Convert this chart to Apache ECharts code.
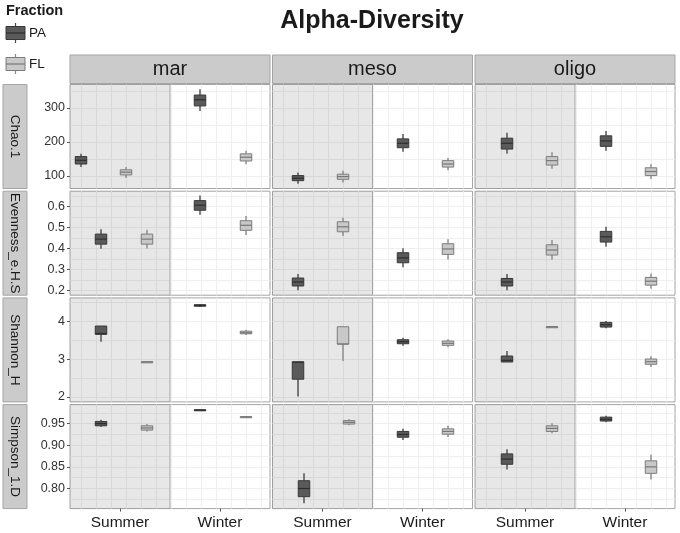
<!DOCTYPE html>
<html>
<head>
<meta charset="utf-8">
<title>Alpha-Diversity</title>
<script src="https://cdn.jsdelivr.net/npm/echarts@6.0.0/dist/echarts.min.js"></script>
<style>
  html, body { margin: 0; padding: 0; background: #fff; }
  #main { width: 680px; height: 533px; }
</style>
</head>
<body>
<div id="main"></div>
<script>
// facets: rows = metrics, columns = sites
var sites = ['mar', 'meso', 'oligo'];
var metrics = ['Chao.1', 'Evenness_e.H.S', 'Shannon_H', 'Simpson_1.D'];
var seasons = ['Summer', 'Winter'];
var fractions = ['PA', 'FL'];

// box stats [low, q1, median, q3, high]
// order in each site: Summer PA, Summer FL, Winter PA, Winter FL
var chao = [
  [[126, 135, 146, 157, 165], [94, 103, 111, 118, 126], [291, 306, 324, 338, 355], [134, 144, 155, 165, 174]],
  [[77, 86, 93, 101, 110], [81, 90, 98, 105, 115], [171, 183, 196, 209, 223], [117, 126, 135, 145, 153]],
  [[165, 179, 196, 211, 227], [121, 132, 145, 157, 170], [174, 187, 203, 218, 232], [91, 101, 113, 124, 134]]
];
var evenness = [
  [[0.399, 0.421, 0.445, 0.469, 0.492], [0.400, 0.421, 0.445, 0.469, 0.490], [0.562, 0.583, 0.607, 0.629, 0.653], [0.465, 0.487, 0.511, 0.533, 0.555]],
  [[0.201, 0.221, 0.240, 0.259, 0.278], [0.460, 0.480, 0.504, 0.528, 0.547], [0.310, 0.332, 0.355, 0.380, 0.401], [0.348, 0.372, 0.398, 0.423, 0.444]],
  [[0.201, 0.221, 0.240, 0.257, 0.278], [0.346, 0.369, 0.393, 0.418, 0.441], [0.409, 0.431, 0.456, 0.482, 0.504], [0.208, 0.225, 0.244, 0.262, 0.281]]
];
var shannon = [
  [[3.46, 3.656, 3.68, 3.876, 3.876], [2.93, 2.93, 2.93, 2.93, 2.93], [4.38, 4.40, 4.42, 4.44, 4.46], [3.64, 3.67, 3.70, 3.74, 3.78]],
  [[2.01, 2.47, 2.92, 2.93, 2.93], [2.95, 3.40, 3.40, 3.857, 3.857], [3.355, 3.408, 3.46, 3.514, 3.567], [3.313, 3.366, 3.42, 3.48, 3.524]],
  [[2.925, 2.925, 2.97, 3.083, 3.215], [3.857, 3.857, 3.857, 3.857, 3.857], [3.815, 3.849, 3.91, 3.973, 4.008], [2.793, 2.864, 2.933, 3.004, 3.075]]
];
var simpson = [
  [[0.942, 0.945, 0.950, 0.955, 0.959], [0.932, 0.935, 0.940, 0.945, 0.949], [0.981, 0.981, 0.9815, 0.982, 0.982], [0.964, 0.965, 0.9655, 0.966, 0.967]],
  [[0.766, 0.781, 0.800, 0.818, 0.835], [0.946, 0.949, 0.953, 0.957, 0.960], [0.912, 0.9185, 0.925, 0.932, 0.938], [0.919, 0.9255, 0.932, 0.938, 0.945]],
  [[0.844, 0.856, 0.868, 0.880, 0.891], [0.928, 0.932, 0.939, 0.945, 0.951], [0.953, 0.956, 0.960, 0.965, 0.968], [0.821, 0.835, 0.850, 0.864, 0.878]]
];

// where each box sits on the panel's x scale (Summer = 0.5, Winter = 1.5)
var chaoX = [[0.11, 0.56, 1.30, 1.76], [0.255, 0.705, 1.305, 1.755], [0.32, 0.77, 1.31, 1.76]];
var evennessX = [[0.31, 0.77, 1.30, 1.76], [0.255, 0.705, 1.305, 1.755], [0.32, 0.77, 1.31, 1.76]];
var shannonX = [[0.31, 0.77, 1.30, 1.76], [0.255, 0.705, 1.305, 1.755], [0.32, 0.77, 1.31, 1.76]];
var simpsonX = [[0.31, 0.77, 1.30, 1.76], [0.315, 0.765, 1.305, 1.755], [0.32, 0.77, 1.31, 1.76]];

// tick labels of each row
var chaoTicks = [100, 200, 300];
var evennessTicks = [0.2, 0.3, 0.4, 0.5, 0.6];
var shannonTicks = [2, 3, 4];
var simpsonTicks = [0.80, 0.85, 0.90, 0.95];
var seasonTicks = [0.5, 1.5];

var rowData = [chao, evenness, shannon, simpson];
var rowX = [chaoX, evennessX, shannonX, simpsonX];
var rowTicks = [chaoTicks, evennessTicks, shannonTicks, simpsonTicks];
var rowRange = [[63, 369], [0.177, 0.674], [1.87, 4.62], [0.7535, 0.994]];
var rowFmt = [
  function (v) { return String(v); },
  function (v) { return v.toFixed(1); },
  function (v) { return String(v); },
  function (v) { return v.toFixed(2); }
];

var FONT = '"Liberation Sans", Arial, Helvetica, sans-serif';
var PL = 70, PT = 84.5, PW = 200, PH = 104, DX = 202.5, DY = 106.7;

var boxStyle = {
  PA: { fill: '#5a5a5a', stroke: '#383838', whisker: '#4a4a4a', median: '#2e2e2e' },
  FL: { fill: '#c8c8c8', stroke: '#7c7c7c', whisker: '#888888', median: '#777777' }
};

// light grid lines: vertical every 0.15 from 0.11, horizontal at ticks and half steps
var xGrid = [];
for (var k = 0; k <= 12; k++) xGrid.push(+(0.11 + 0.15 * k).toFixed(2));
function halfSteps(t) {
  var step = t[1] - t[0], out = [];
  for (var v = t[0] - step; v <= t[t.length - 1] + step * 1.01; v += step / 2) out.push(+v.toFixed(4));
  return out;
}

function renderBox(params, api) {
  var x = api.value(0);
  var lo = api.coord([x, api.value(1)]);
  var q1 = api.coord([x, api.value(2)]);
  var md = api.coord([x, api.value(3)]);
  var q3 = api.coord([x, api.value(4)]);
  var hi = api.coord([x, api.value(5)]);
  var st = boxStyle[fractions[api.value(6)]];
  var w = api.size([0.115, 0])[0];
  var h = Math.max(q1[1] - q3[1], 1);
  return {
    type: 'group',
    children: [
      { type: 'line', shape: { x1: lo[0], y1: lo[1], x2: q1[0], y2: q1[1] }, style: { stroke: st.whisker, lineWidth: 1.4 } },
      { type: 'line', shape: { x1: q3[0], y1: q3[1], x2: hi[0], y2: hi[1] }, style: { stroke: st.whisker, lineWidth: 1.4 } },
      { type: 'rect', shape: { x: q3[0] - w / 2, y: q3[1], width: w, height: h }, style: { fill: st.fill, stroke: st.stroke, lineWidth: 1 } },
      { type: 'line', shape: { x1: md[0] - w / 2, y1: md[1], x2: md[0] + w / 2, y2: md[1] }, style: { stroke: st.median, lineWidth: 1.2 } }
    ]
  };
}

// grey Summer half and the line between seasons
function renderShade(params, api) {
  var cs = params.coordSys;
  var x0 = api.coord([api.value(0), api.value(2)])[0];
  var x1 = api.coord([api.value(1), api.value(2)])[0];
  return {
    type: 'group',
    children: [
      { type: 'rect', shape: { x: x0, y: cs.y, width: x1 - x0, height: cs.height }, style: { fill: 'rgba(0,0,0,0.095)' } },
      { type: 'line', shape: { x1: x1, y1: cs.y, x2: x1, y2: cs.y + cs.height }, style: { stroke: '#a5a5a5', lineWidth: 1 } }
    ]
  };
}

var grids = [], xAxes = [], yAxes = [], series = [], graphics = [];

metrics.forEach(function (metric, r) {
  sites.forEach(function (site, c) {
    var g = r * 3 + c;
    var range = rowRange[r];
    grids.push({
      left: PL + c * DX, top: PT + r * DY, width: PW, height: PH,
      show: true, backgroundColor: '#fff', borderColor: '#a5a5a5', borderWidth: 1
    });
    // axis only for grid lines
    xAxes.push({
      gridIndex: g, type: 'value', min: 0, max: 2, position: 'bottom',
      axisLine: { show: false }, axisLabel: { show: false },
      axisTick: { show: false, customValues: xGrid },
      splitLine: { show: true, lineStyle: { color: '#efefef', width: 1 } }
    });
    // axis with season ticks and labels
    xAxes.push({
      gridIndex: g, type: 'value', min: 0, max: 2, position: 'bottom',
      axisLine: { show: false }, splitLine: { show: false },
      axisTick: { show: r === 3, customValues: seasonTicks, length: 3, lineStyle: { color: '#555' } },
      axisLabel: {
        show: r === 3, customValues: seasonTicks, margin: 6,
        fontSize: 15.5, color: '#1a1a1a', fontFamily: FONT,
        formatter: function (v) { return seasons[Math.round(v - 0.5)]; }
      }
    });
    yAxes.push({
      gridIndex: g, type: 'value', min: range[0], max: range[1], position: 'left',
      axisLine: { show: false }, axisLabel: { show: false },
      axisTick: { show: false, customValues: halfSteps(rowTicks[r]) },
      splitLine: { show: true, lineStyle: { color: '#efefef', width: 1 } }
    });
    yAxes.push({
      gridIndex: g, type: 'value', min: range[0], max: range[1], position: 'left',
      axisLine: { show: false }, splitLine: { show: false },
      axisTick: { show: c === 0, customValues: rowTicks[r], length: 3, lineStyle: { color: '#555' } },
      axisLabel: {
        show: c === 0, customValues: rowTicks[r], margin: 5,
        fontSize: 12.5, color: '#333', fontFamily: FONT, formatter: rowFmt[r]
      }
    });

    series.push({
      type: 'custom', name: 'shade', xAxisIndex: 2 * g + 1, yAxisIndex: 2 * g + 1,
      z: 1, silent: true, renderItem: renderShade,
      data: [[0, 1, range[0]]]
    });

    var boxes = rowData[r][c].map(function (b, i) {
      return [rowX[r][c][i]].concat(b).concat([i % 2]);
    });
    series.push({
      type: 'custom', name: metric + ' ' + site, xAxisIndex: 2 * g + 1, yAxisIndex: 2 * g + 1,
      z: 3, renderItem: renderBox,
      encode: { x: 0, y: [1, 2, 3, 4, 5] },
      data: boxes
    });
  });
});

// facet strips
sites.forEach(function (site, c) {
  graphics.push({
    type: 'rect', shape: { x: PL + c * DX, y: 55, width: PW, height: 28.5 },
    style: { fill: '#cbcbcb', stroke: '#a5a5a5', lineWidth: 1 }
  });
  graphics.push({
    type: 'text', x: PL + c * DX + PW / 2, y: 69.5,
    style: { text: site, font: '20px ' + FONT, fill: '#1a1a1a', align: 'center', verticalAlign: 'middle', textAlign: 'center', textVerticalAlign: 'middle' }
  });
});
metrics.forEach(function (metric, r) {
  graphics.push({
    type: 'rect', shape: { x: 3, y: PT + r * DY, width: 24, height: PH },
    style: { fill: '#cbcbcb', stroke: '#a5a5a5', lineWidth: 1 }
  });
  graphics.push({
    type: 'text', x: 15, y: PT + r * DY + PH / 2, rotation: -Math.PI / 2,
    style: { text: metric, font: '13.5px ' + FONT, fill: '#1a1a1a', align: 'center', verticalAlign: 'middle', textAlign: 'center', textVerticalAlign: 'middle' }
  });
});

// title
graphics.push({
  type: 'text', x: 372, y: 21,
  style: { text: 'Alpha-Diversity', font: 'bold 25px ' + FONT, fill: '#1a1a1a', align: 'center', verticalAlign: 'middle', textAlign: 'center', textVerticalAlign: 'middle' }
});

// legend "Fraction" with boxplot keys
graphics.push({
  type: 'text', x: 6, y: 11,
  style: { text: 'Fraction', font: 'bold 14.5px ' + FONT, fill: '#1a1a1a', align: 'left', verticalAlign: 'middle', textAlign: 'left', textVerticalAlign: 'middle' }
});
fractions.forEach(function (f, i) {
  var cy = i === 0 ? 33 : 64;
  var st = boxStyle[f];
  graphics.push({ type: 'line', shape: { x1: 15.5, y1: cy - 10, x2: 15.5, y2: cy + 10 }, style: { stroke: st.whisker, lineWidth: 1.2 } });
  graphics.push({ type: 'rect', shape: { x: 6, y: cy - 6.5, width: 19, height: 13 }, style: { fill: st.fill, stroke: st.stroke, lineWidth: 1 } });
  graphics.push({ type: 'line', shape: { x1: 6, y1: cy, x2: 25, y2: cy }, style: { stroke: st.median, lineWidth: 1.2 } });
  graphics.push({
    type: 'text', x: 29, y: cy,
    style: { text: f, font: '13.5px ' + FONT, fill: '#1a1a1a', align: 'left', verticalAlign: 'middle', textAlign: 'left', textVerticalAlign: 'middle' }
  });
});

var chart = echarts.init(document.getElementById('main'));
chart.setOption({
  backgroundColor: '#fff',
  animation: false,
  grid: grids,
  xAxis: xAxes,
  yAxis: yAxes,
  series: series,
  graphic: graphics
});
</script>
</body>
</html>
